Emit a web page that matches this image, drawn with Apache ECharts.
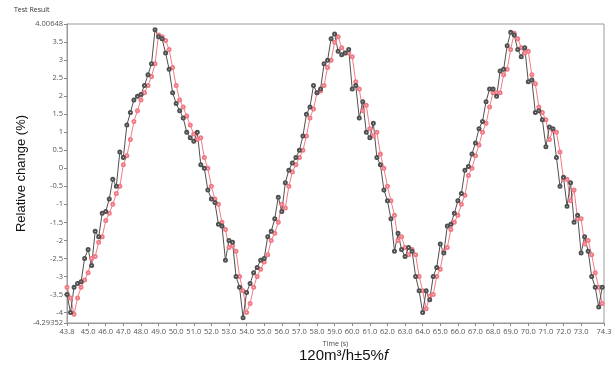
<!DOCTYPE html>
<html>
<head>
<meta charset="utf-8">
<script src="https://cdn.jsdelivr.net/npm/echarts@6/dist/echarts.min.js"></script>
<style>
  html, body { margin: 0; padding: 0; background: #fff; }
  #chart { width: 616px; height: 365px; }
</style>
</head>
<body>
<div id="chart"></div>
<script>
// sampling of the recorded signal
const startTime = 43.8;
const sampleStep = 0.2;

// relative change (%)
const blackValues = [
  -3.5, -4.0, -3.3, -3.2, -3.15, -2.5, -2.25, -2.7, -1.75, -1.9,
  -1.25, -1.2, -0.85, -0.3, -0.5, 0.45, 0.3, 1.2, 1.55, 1.9,
  2.0, 2.05, 2.3, 2.6, 2.9, 3.85, 3.65, 3.6, 3.2, 2.75,
  2.1, 1.8, 1.6, 1.4, 1.0, 0.85, 0.75, 1.0, 0.1, 0.0,
  -0.6, -0.85, -0.95, -1.55, -1.6, -2.55, -2.0, -2.05, -3.0, -3.3,
  -4.15, -3.45, -3.2, -2.9, -2.75, -2.55, -2.5, -1.9, -1.75, -1.4,
  -0.8, -1.2, -0.4, -0.05, 0.15, 0.3, 0.5, 0.9, 1.5, 1.7,
  2.3, 2.1, 2.2, 2.9, 3.0, 3.6, 3.73, 3.25, 3.15, 3.2,
  3.3, 2.2, 2.3, 1.4, 1.85, 1.0, 0.85, 1.25, 0.3, 0.1,
  -0.6, -0.9, -1.4, -2.3, -1.8, -2.25, -2.45, -2.2, -2.3, -3.0,
  -3.4, -4.0, -3.4, -3.65, -3.0, -2.75, -2.1, -2.35, -1.6, -1.55,
  -1.25, -0.9, -0.7, -0.05, 0.05, 0.4, 0.7, 1.1, 1.3, 1.85,
  2.2, 2.2, 2.0, 2.7, 2.75, 3.4, 3.78, 3.7, 3.3, 3.1,
  3.35, 2.4, 2.45, 1.55, 1.6, 1.35, 0.6, 1.15, 1.1, 0.3,
  -0.5, -0.25, -1.05, -0.4, -1.5, -1.3, -2.35, -1.9, -2.3, -3.0,
  -3.3, -3.85, -3.3
];

const redValues = [
  -3.3, -3.6, -4.05, -3.6, -3.3, -3.1, -2.9, -2.5, -2.45, -2.05,
  -1.9, -1.45, -1.25, -1.0, -0.7, -0.5, 0.1, 0.35, 0.8, 1.3,
  1.6, 1.9, 2.1, 2.3, 2.55, 2.9, 3.7, 3.65, 3.55, 3.3,
  2.8, 2.3, 1.9, 1.7, 1.45, 1.2, 0.95, 0.8, 0.85, 0.3,
  0.0, -0.5, -0.85, -1.0, -1.5, -1.7, -2.2, -2.15, -2.3, -3.0,
  -3.4, -4.0, -3.75, -3.3, -3.0, -2.8, -2.6, -2.4, -2.0, -1.8,
  -1.5, -1.0, -1.1, -0.5, -0.1, 0.1, 0.3, 0.5, 0.9, 1.4,
  1.65, 2.1, 2.15, 2.3, 2.8, 3.0, 3.5, 3.65, 3.35, 3.2,
  3.2, 3.1, 2.4, 2.2, 1.6, 1.75, 1.1, 0.9, 1.0, 0.4,
  0.0, -0.5, -0.9, -1.3, -2.0, -1.9, -2.2, -2.4, -2.25, -2.4,
  -3.0, -3.4, -3.9, -3.55, -3.5, -3.0, -2.8, -2.3, -2.2, -1.7,
  -1.5, -1.3, -1.0, -0.75, -0.2, 0.0, 0.35, 0.65, 1.0, 1.25,
  1.7, 2.1, 2.1, 2.1, 2.6, 2.75, 3.3, 3.75, 3.6, 3.35,
  3.2, 3.25, 2.6, 2.35, 1.7, 1.55, 1.35, 0.8, 1.05, 1.0,
  0.45, -0.3, -0.3, -0.9, -0.6, -1.4, -1.4, -2.1, -2.0, -2.4,
  -2.9, -3.3, -3.75
];

const xTicks = [43.8, 45, 46, 47, 48, 49, 50, 51, 52, 53, 54, 55, 56, 57, 58, 59,
  60, 61, 62, 63, 64, 65, 66, 67, 68, 69, 70, 71, 72, 73, 74.3];
const yTicks = [-4.29352, -4, -3.5, -3, -2.5, -2, -1.5, -1, -0.5, 0, 0.5,
  1, 1.5, 2, 2.5, 3, 3.5, 4.00648];

const xMin = 43.8, xMax = 74.3;
const yMin = -4.29352, yMax = 4.00648;

const toPairs = vals => vals.map((v, i) => [+(startTime + i * sampleStep).toFixed(1), v]);

const chart = echarts.init(document.getElementById("chart"));
const labelFont = "Open Sans";

chart.setOption({
  animation: false,
  backgroundColor: "#fff",
  grid: { left: 67, right: 12, top: 24, bottom: 42, show: true, borderColor: "#9a9a9a", borderWidth: 1 },
  graphic: [
    { type: "text", left: 14, top: 6, style: { text: "Test Result", fontSize: 7, fill: "#333", fontFamily: labelFont } },
    {
      type: "text", left: 299, top: 348,
      style: {
        text: "{a|120m³/h±5%}{b|f}",
        rich: {
          a: { fontSize: 15, fill: "#111", fontFamily: "Liberation Sans" },
          b: { fontSize: 15, fill: "#111", fontFamily: "Liberation Sans", fontStyle: "italic" }
        }
      }
    }
  ],
  xAxis: {
    type: "value",
    min: xMin, max: xMax,
    name: "Time (s)",
    nameLocation: "middle",
    nameGap: 17,
    nameTextStyle: { fontSize: 7, color: "#444", fontFamily: labelFont },
    axisLine: { onZero: false, lineStyle: { color: "#9a9a9a" } },
    axisTick: { customValues: xTicks, length: 3, lineStyle: { color: "#888" } },
    axisLabel: { customValues: xTicks, fontSize: 7.5, color: "#555", fontFamily: labelFont, margin: 5,
      formatter: v => v.toFixed(1) },
    splitLine: { show: false }
  },
  yAxis: {
    type: "value",
    min: yMin, max: yMax,
    name: "Relative change (%)",
    nameLocation: "middle",
    nameGap: 39,
    nameMoveOverlap: false,
    nameTextStyle: { fontSize: 13, color: "#111", fontFamily: "Liberation Sans" },
    axisLine: { show: true, onZero: false, lineStyle: { color: "#9a9a9a" } },
    axisTick: { show: true, customValues: yTicks, length: 3, lineStyle: { color: "#888" } },
    axisLabel: { customValues: yTicks, fontSize: 7.5, color: "#555", fontFamily: labelFont, margin: 4,
      formatter: v => String(v) },
    splitLine: { show: false }
  },
  series: [
    {
      name: "red",
      type: "line",
      data: toPairs(redValues),
      symbol: "emptyCircle",
      symbolSize: 3,
      lineStyle: { color: "#f27a85", width: 1 },
      itemStyle: { color: "#f27a85", borderWidth: 0.8 }
    },
    {
      name: "black",
      type: "line",
      data: toPairs(blackValues),
      symbol: "emptyCircle",
      symbolSize: 3,
      lineStyle: { color: "#505050", width: 1 },
      itemStyle: { color: "#505050", borderWidth: 0.8 }
    }
  ]
});
</script>
</body>
</html>
